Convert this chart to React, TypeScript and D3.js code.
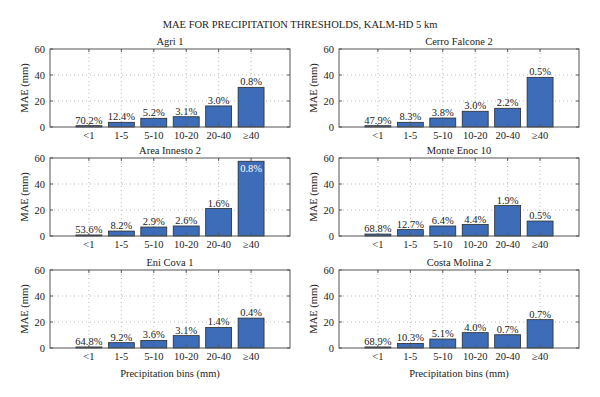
import React from 'react';
import { scaleLinear } from 'd3';

const bins = ['<1', '1-5', '5-10', '10-20', '20-40', '≥40'];
const stations = ['Agri 1', 'Cerro Falcone 2', 'Area Innesto 2', 'Monte Enoc 10', 'Eni Cova 1', 'Costa Molina 2'];
const yTicks = [0, 20, 40, 60];

// MAE (mm) per bin, one array per station
const maeAgri = [1.0, 3.6, 6.7, 7.9, 16.2, 30.5];
const maeCerro = [1.0, 3.6, 6.9, 12.1, 14.4, 38.2];
const maeArea = [0.8, 3.8, 6.9, 7.7, 21.1, 57.5];
const maeMonte = [1.5, 4.9, 7.7, 8.8, 23.4, 11.5];
const maeEni = [0.8, 4.1, 5.8, 9.5, 15.8, 23.0];
const maeCosta = [0.8, 3.5, 6.9, 11.8, 10.2, 21.8];

// share of events in each bin
const pctAgri = ['70.2%', '12.4%', '5.2%', '3.1%', '3.0%', '0.8%'];
const pctCerro = ['47.9%', '8.3%', '3.8%', '3.0%', '2.2%', '0.5%'];
const pctArea = ['53.6%', '8.2%', '2.9%', '2.6%', '1.6%', '0.8%'];
const pctMonte = ['68.8%', '12.7%', '6.4%', '4.4%', '1.9%', '0.5%'];
const pctEni = ['64.8%', '9.2%', '3.6%', '3.1%', '1.4%', '0.4%'];
const pctCosta = ['68.9%', '10.3%', '5.1%', '4.0%', '0.7%', '0.7%'];

const maes = [maeAgri, maeCerro, maeArea, maeMonte, maeEni, maeCosta];
const pcts = [pctAgri, pctCerro, pctArea, pctMonte, pctEni, pctCosta];

const font = 'Liberation Serif';
const colLeft = [50, 339];
const rowTop = [49, 158, 270];
const boxW = 240;
const boxH = 78;

const T = (props: any) => <text fontFamily={font} fontSize={10.5} {...props} />;

const Panel = ({ idx }: { idx: number }) => {
  const col = idx % 2;
  const row = Math.floor(idx / 2);
  const x0 = colLeft[col];
  const y0 = rowTop[row];
  const x = scaleLinear().domain([-0.2, 7.2]).range([x0, x0 + boxW]);
  const y = scaleLinear().domain([0, 60]).range([y0 + boxH, y0]);
  const bw = (x(1) - x(0)) * 0.8;
  const vals = maes[idx];
  const labs = pcts[idx];
  return (
    <g>
      <T x={x0 + boxW / 2} y={y0 - 4} textAnchor="middle">{stations[idx]}</T>
      {yTicks.slice(1, 3).map((t) => (
        <line key={'gy' + t} x1={x0} x2={x0 + boxW} y1={y(t)} y2={y(t)}
          stroke="#aaa" strokeWidth={0.8} strokeDasharray="1,3" />
      ))}
      {bins.map((b, i) => (
        <line key={'gx' + b} x1={x(i + 1)} x2={x(i + 1)} y1={y0} y2={y0 + boxH}
          stroke="#aaa" strokeWidth={0.8} strokeDasharray="1,3" />
      ))}
      {vals.map((v, i) => (
        <rect key={'b' + i} x={x(i + 1) - bw / 2} y={y(v)} width={bw} height={y(0) - y(v)}
          fill="#3d6db8" stroke="#2a2a2a" strokeWidth={0.8} />
      ))}
      {vals.map((v, i) => {
        const inside = y(v) - 12 < y0;
        return (
          <T key={'p' + i} x={x(i + 1)} y={inside ? y(v) + 11 : y(v) - 2}
            textAnchor="middle" fill={inside ? '#fff' : '#222'}>
            {labs[i]}
          </T>
        );
      })}
      <rect x={x0} y={y0} width={boxW} height={boxH} fill="none" stroke="#555" strokeWidth={1} />
      {yTicks.map((t) => (
        <g key={'yt' + t}>
          <line x1={x0} x2={x0 + 3} y1={y(t)} y2={y(t)} stroke="#555" />
          <line x1={x0 + boxW - 3} x2={x0 + boxW} y1={y(t)} y2={y(t)} stroke="#555" />
          <T x={x0 - 5} y={y(t) + 3.5} textAnchor="end">{t}</T>
        </g>
      ))}
      {bins.map((b, i) => (
        <g key={'xt' + b}>
          <line x1={x(i + 1)} x2={x(i + 1)} y1={y0 + boxH} y2={y0 + boxH - 3} stroke="#555" />
          <line x1={x(i + 1)} x2={x(i + 1)} y1={y0} y2={y0 + 3} stroke="#555" />
          <T x={x(i + 1)} y={y0 + boxH + 12} textAnchor="middle">{b}</T>
        </g>
      ))}
      <T transform={`translate(${x0 - 22},${y0 + boxH / 2}) rotate(-90)`} textAnchor="middle">
        MAE (mm)
      </T>
      {row === 2 && (
        <T x={x0 + boxW / 2} y={y0 + boxH + 29} textAnchor="middle">
          Precipitation bins (mm)
        </T>
      )}
    </g>
  );
};

export default function App() {
  return (
    <svg width={600} height={397}
      style={{ position: 'absolute', left: 0, top: 0, background: '#fff' }}
      fill="#222">
      <rect width={600} height={397} fill="#fff" />
      <T x={300} y={28} textAnchor="middle">
        MAE FOR PRECIPITATION THRESHOLDS, KALM-HD 5 km
      </T>
      {stations.map((s, i) => (
        <Panel key={s} idx={i} />
      ))}
    </svg>
  );
}
